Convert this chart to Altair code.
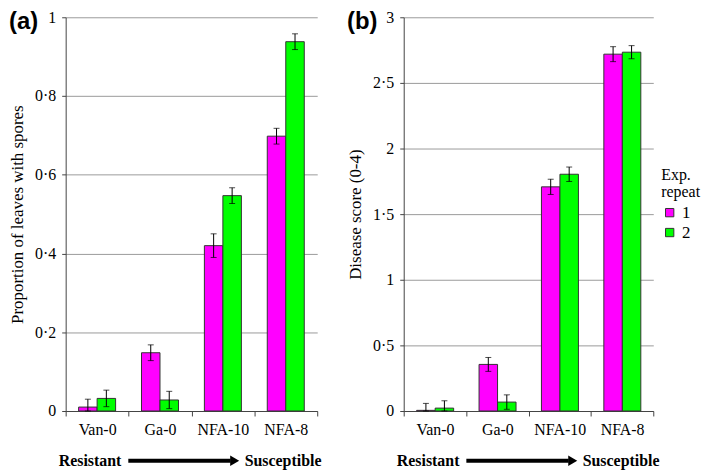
import altair as alt
import pandas as pd

# ---------------- data ----------------
accessions = ["Van-0", "Ga-0", "NFA-10", "NFA-8"]
repeats = ["1", "2"]

# panel (a): proportion of leaves with spores
prop_rep1 = [0.010, 0.148, 0.420, 0.698]
prop_rep2 = [0.032, 0.028, 0.547, 0.938]
prop_err1 = [0.020, 0.020, 0.030, 0.020]
prop_err2 = [0.021, 0.022, 0.020, 0.020]

# panel (b): disease score (0-4)
score_rep1 = [0.005, 0.355, 1.708, 2.719]
score_rep2 = [0.022, 0.068, 1.804, 2.734]
score_err1 = [0.053, 0.053, 0.058, 0.057]
score_err2 = [0.056, 0.055, 0.055, 0.050]

prop_ticks = [0, 0.2, 0.4, 0.6, 0.8, 1]
score_ticks = [0, 0.5, 1, 1.5, 2, 2.5, 3]

colors = ["#FF00FF", "#00FF00"]

SERIF = "Liberation Serif"
SANS = "Liberation Sans"


def make_df(v1, v2, e1, e2):
    rows = []
    for rep, vals, errs in (("1", v1, e1), ("2", v2, e2)):
        for acc, v, e in zip(accessions, vals, errs):
            rows.append({"accession": acc, "repeat": rep, "value": v,
                         "lo": max(0.0, v - e), "hi": v + e})
    return pd.DataFrame(rows)


df_a = make_df(prop_rep1, prop_rep2, prop_err1, prop_err2)
df_b = make_df(score_rep1, score_rep2, score_err1, score_err2)
one = pd.DataFrame({"k": [0]})


def panel(df, ticks, ymax, ytitle, letter, width, legend):
    xenc = alt.X("accession:N", sort=accessions,
                 scale=alt.Scale(paddingInner=0, paddingOuter=0),
                 axis=alt.Axis(title=None, labelAngle=0, tickBand="extent", grid=False,
                               domainColor="#444", tickColor="#444", tickSize=5,
                               labelPadding=6, labelFont=SERIF, labelFontSize=16,
                               labelColor="black"))
    xoff = alt.XOffset("repeat:N", sort=repeats,
                       scale=alt.Scale(paddingInner=0, paddingOuter=0.7))
    yscale = alt.Scale(domain=[0, ymax], nice=False)
    yaxis = alt.Axis(title=ytitle, values=ticks,
                     labelExpr="replace(toString(datum.value), '.', '·')",
                     grid=True, gridColor="#9a9a9a", gridWidth=1,
                     domainColor="#444", tickColor="#444", tickSize=4,
                     labelPadding=6, labelFont=SERIF, labelFontSize=16,
                     labelColor="black", titleFont=SERIF, titleFontSize=17,
                     titleFontWeight="normal", titleColor="black", titlePadding=8)

    bars = alt.Chart(df).mark_bar(stroke="#333333", strokeWidth=1).encode(
        x=xenc, xOffset=xoff,
        y=alt.Y("value:Q", scale=yscale, axis=yaxis),
        color=alt.Color("repeat:N", sort=repeats,
                        scale=alt.Scale(domain=repeats, range=colors),
                        legend=legend),
    )
    err = alt.Chart(df).mark_rule(color="black", strokeWidth=1).encode(
        x=xenc, xOffset=xoff,
        y=alt.Y("lo:Q", scale=yscale, axis=yaxis), y2="hi:Q")
    cap_hi = alt.Chart(df).mark_tick(color="black", orient="horizontal", size=6,
                                     thickness=1).encode(
        x=xenc, xOffset=xoff, y=alt.Y("hi:Q", scale=yscale, axis=yaxis))
    cap_lo = alt.Chart(df).mark_tick(color="black", orient="horizontal", size=6,
                                     thickness=1).encode(
        x=xenc, xOffset=xoff, y=alt.Y("lo:Q", scale=yscale, axis=yaxis))

    lab = alt.Chart(one).mark_text(text=letter, font=SANS, fontWeight="bold",
                                   fontSize=24, align="left", baseline="top",
                                   color="black").encode(
        x=alt.value(-57), y=alt.value(-7))
    res = alt.Chart(one).mark_text(text="Resistant", font=SERIF, fontWeight="bold",
                                   fontSize=16, align="left", baseline="middle",
                                   color="black").encode(
        x=alt.value(-7), y=alt.value(446))
    arrow = alt.Chart(one).mark_rule(color="black", strokeWidth=4).encode(
        x=alt.value(63), x2=alt.value(166), y=alt.value(446))
    head = alt.Chart(one).mark_point(shape="triangle-right", filled=True, size=110,
                                     color="black", opacity=1).encode(
        x=alt.value(170), y=alt.value(446))
    sus = alt.Chart(one).mark_text(text="Susceptible", font=SERIF, fontWeight="bold",
                                   fontSize=16, align="left", baseline="middle",
                                   color="black").encode(
        x=alt.value(180), y=alt.value(446))

    return alt.layer(bars, err, cap_hi, cap_lo, lab, res, arrow, head, sus).properties(
        width=width, height=396)


legend_b = alt.Legend(title=["Exp.", "repeat"], orient="none", legendX=259, legendY=151,
                      symbolType="square", symbolSize=70, symbolStrokeColor="#333333",
                      symbolStrokeWidth=1, symbolOpacity=1,
                      labelFont=SERIF, labelFontSize=17, labelColor="black",
                      titleFont=SERIF, titleFontSize=16, titleFontWeight="normal",
                      titleColor="black", titlePadding=4, titleLineHeight=17,
                      rowPadding=2)

pa = panel(df_a, prop_ticks, 1, "Proportion of leaves with spores", "(a)", 253, None)
pb = panel(df_b, score_ticks, 3, "Disease score (0-4)", "(b)", 251, legend_b)

chart = alt.hconcat(pa, pb, spacing=24).resolve_legend(color="independent").configure_view(
    stroke=None).properties(padding=0)

chart.save("out.html", embed_options={"renderer": "svg", "actions": False})
